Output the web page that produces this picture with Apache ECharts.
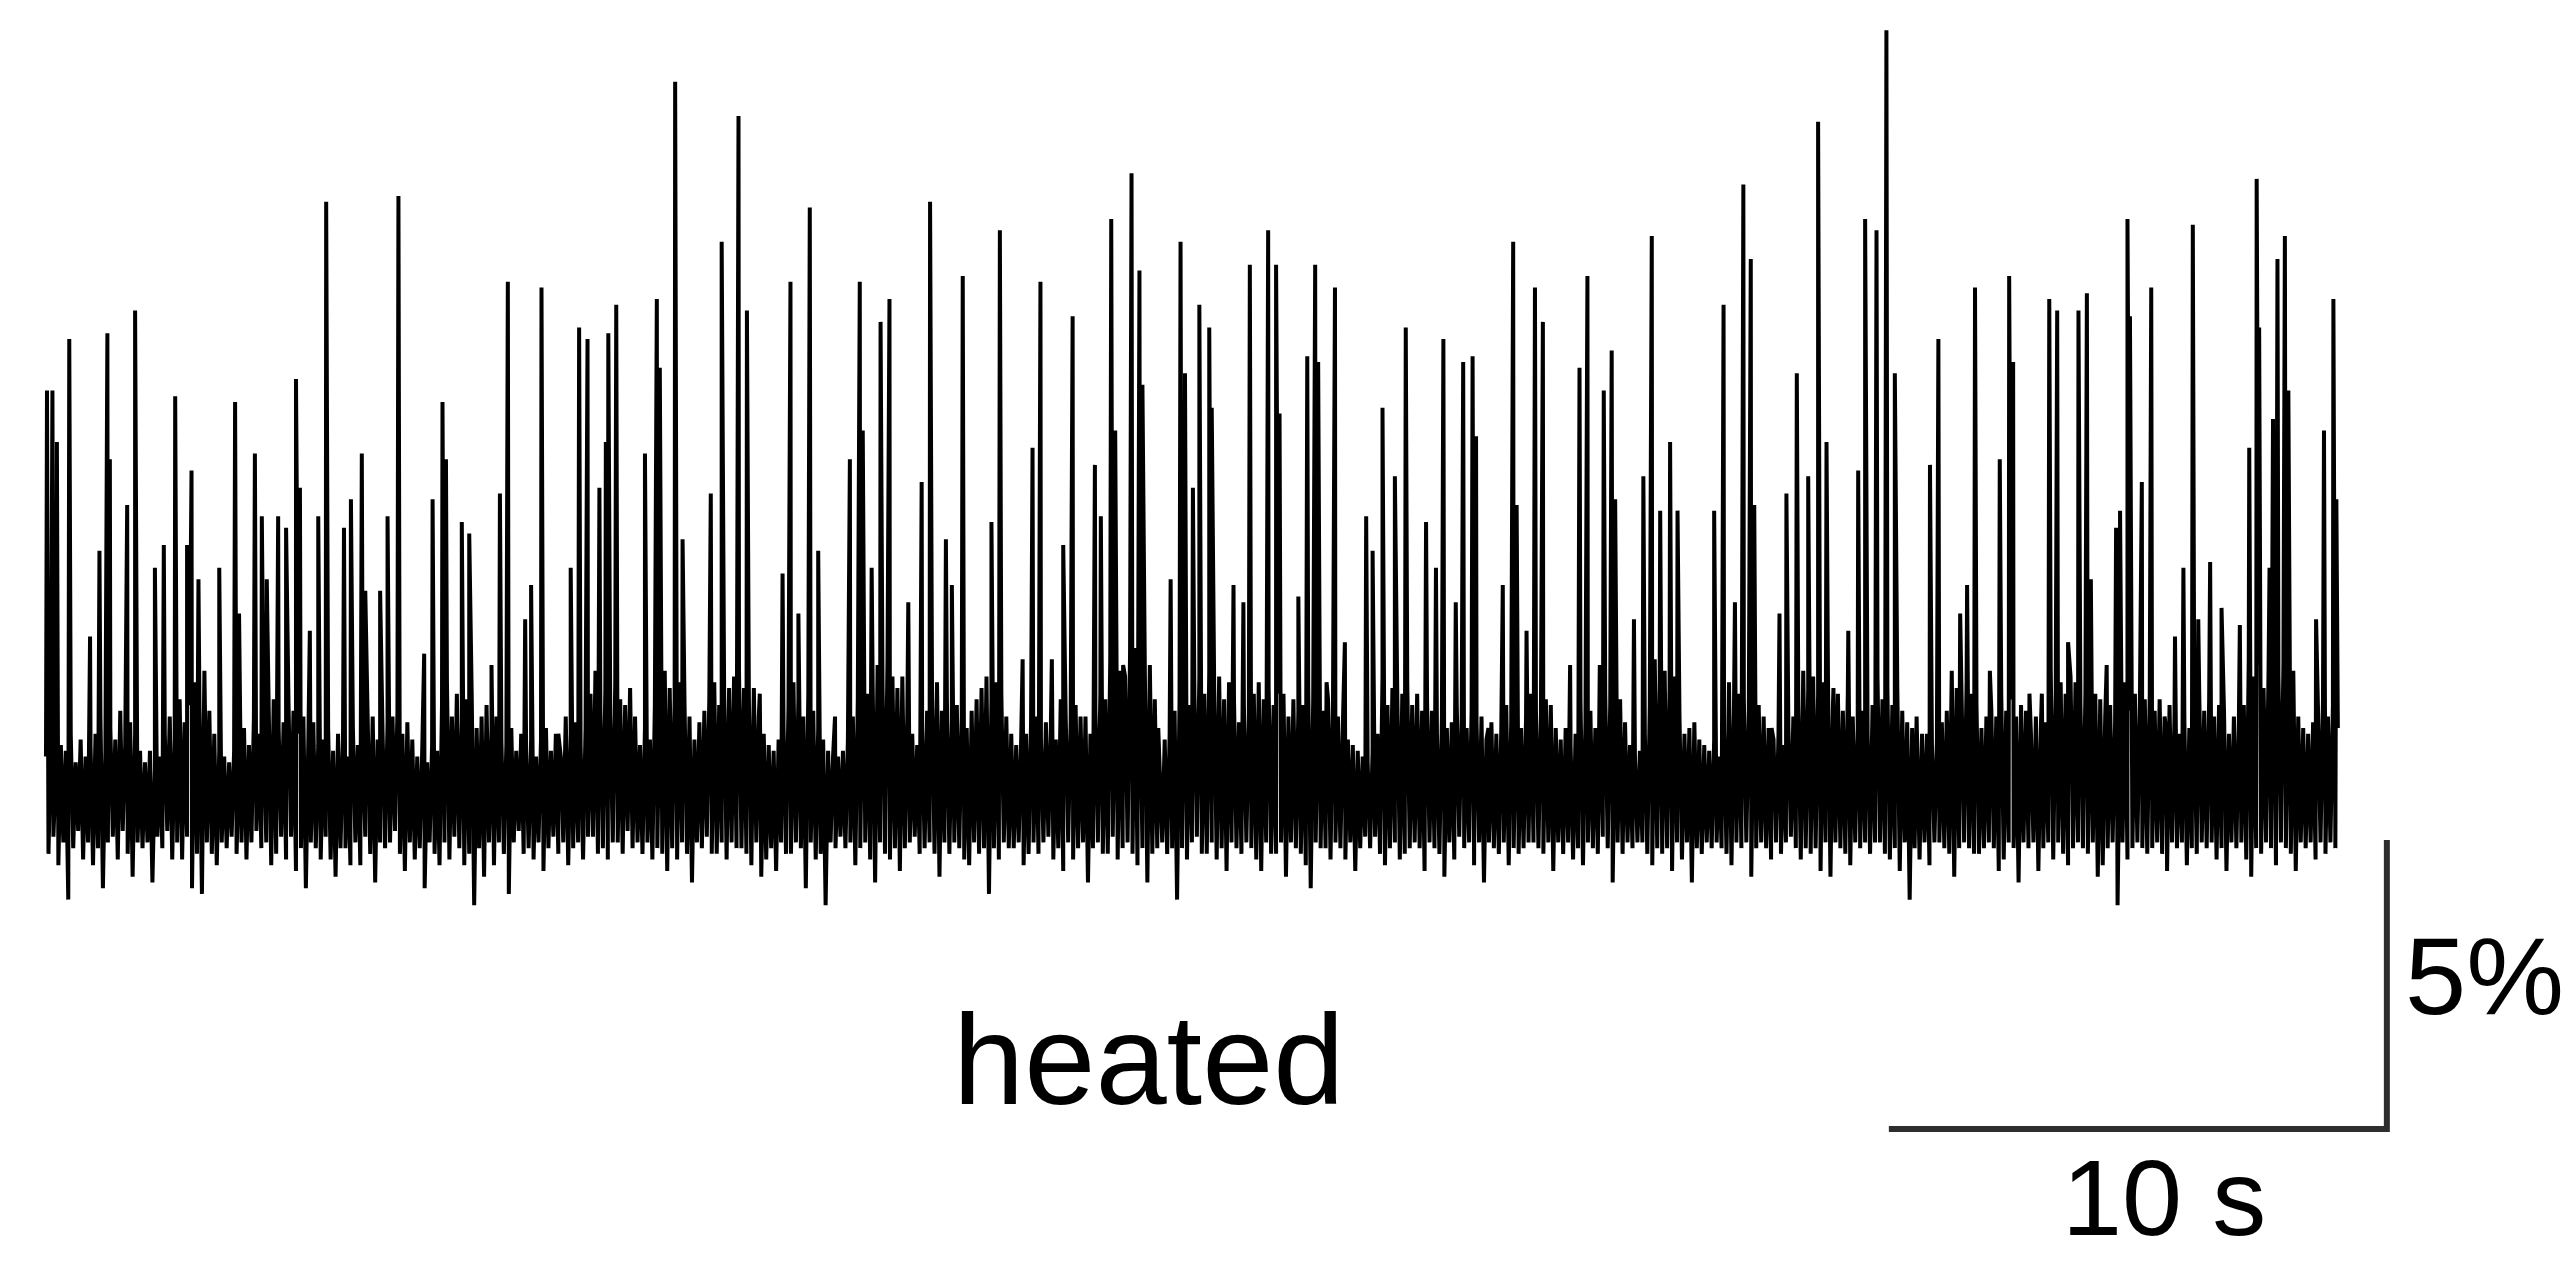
<!DOCTYPE html>
<html>
<head>
<meta charset="utf-8">
<script src="https://cdn.jsdelivr.net/npm/echarts@6/dist/echarts.min.js"></script>
<style>
html,body{margin:0;padding:0;background:#fff;}
#chart{width:2576px;height:1263px;}
</style>
</head>
<body>
<div id="chart"></div>
<script>
// ---- data (ΔF/F in %, time in s) ----
const sampleStep = 0.05; // seconds between baseline samples (one row = 1 s)
const baseline = [
0.5,-1.2,0.8,-0.9,0.3,-1.4,0.7,-1.0,0.6,-2.0,0.9,-1.1,0.4,-0.8,0.8,-1.3,0.5,-1.0,0.7,-1.4,
0.9,-1.1,1.2,-1.8,0.6,-1.0,1.0,-0.9,0.8,-1.3,1.3,-0.8,0.7,-1.2,1.1,-1.6,0.9,-1.0,0.6,-1.1,
0.4,-1.0,0.6,-1.7,0.3,-0.9,0.5,-1.1,0.9,-0.8,1.2,-1.3,0.8,-1.0,1.5,-1.3,1.1,-0.9,1.4,-1.8,
1.8,-1.2,1.4,-1.9,2.0,-1.0,1.3,-1.2,0.9,-1.4,0.6,-1.0,0.5,-1.1,0.4,-0.9,0.6,-1.2,0.5,-1.0,
1.0,-1.3,0.7,-1.0,1.2,-0.8,0.9,-1.1,0.8,-1.0,1.3,-1.4,1.5,-1.2,1.0,-0.9,1.1,-1.3,1.4,-0.9,
1.3,-1.5,0.9,-1.1,1.2,-1.8,0.8,-1.0,1.1,-1.1,0.7,-1.3,0.8,-0.9,1.0,-1.3,0.6,-1.6,0.9,-1.1,
0.8,-1.1,0.5,-1.4,1.0,-1.0,0.7,-1.4,0.6,-0.9,1.1,-1.2,1.2,-1.7,0.8,-1.0,0.9,-1.1,1.1,-1.0,
1.2,-0.8,1.3,-1.2,0.9,-1.5,1.1,-1.0,0.8,-1.3,0.5,-1.1,0.6,-1.8,0.4,-1.0,0.7,-1.2,0.6,-1.4,
1.4,-1.0,1.8,-1.3,1.2,-0.9,1.6,-1.1,1.1,-1.4,1.5,-1.2,1.6,-2.1,1.0,-1.1,1.2,-1.6,1.4,-1.0,
1.0,-1.4,1.2,-1.0,0.8,-1.2,0.7,-1.9,1.0,-1.0,0.6,-0.8,0.9,-1.2,0.6,-1.1,0.8,-1.3,0.5,-1.0,
0.8,-1.5,1.0,-1.1,0.6,-0.9,0.9,-1.2,0.5,-1.0,1.2,-1.4,0.9,-1.1,1.1,-1.0,0.7,-1.3,1.0,-0.9,
1.6,-0.9,2.0,-1.2,1.3,-1.1,1.7,-1.3,1.2,-1.0,1.8,-1.0,1.5,-1.2,1.4,-0.8,1.7,-1.1,1.2,-1.0,
0.7,-1.2,1.0,-1.0,0.8,-1.3,1.4,-1.1,1.6,-1.2,2.0,-1.5,1.7,-1.1,1.5,-1.3,1.8,-1.0,1.4,-1.2,
1.2,-1.7,0.8,-1.0,1.1,-1.1,1.3,-0.9,1.5,-1.2,1.8,-1.2,1.4,-1.0,1.6,-1.3,1.7,-1.0,1.9,-1.1,
2.0,-1.1,1.7,-1.2,1.5,-1.4,1.7,-1.0,1.2,-1.6,0.9,-1.3,0.7,-1.1,0.6,-1.5,0.8,-1.0,1.0,-1.2,
1.4,-1.2,1.8,-1.0,1.5,-1.1,1.2,-1.8,1.6,-1.0,1.3,-1.3,1.0,-1.2,0.8,-2.1,0.6,-1.0,0.5,-1.1,
0.5,-0.9,0.6,-1.1,0.8,-1.0,1.2,-1.4,1.5,-1.1,2.0,-1.0,1.6,-1.3,1.8,-1.7,2.1,-1.0,1.7,-1.2,
2.2,-1.3,1.9,-1.1,1.7,-1.5,1.9,-1.1,1.2,-1.0,0.9,-0.9,0.7,-1.2,1.0,-1.1,1.3,-1.0,1.6,-1.2,
1.8,-1.6,1.3,-1.0,1.5,-1.2,1.1,-1.0,1.4,-1.1,1.2,-1.3,1.0,-1.4,1.3,-1.0,1.5,-1.2,1.7,-1.1,
1.9,-1.9,1.5,-1.1,1.8,-1.3,1.6,-1.0,1.2,-1.1,0.9,-1.1,0.7,-1.0,0.8,-1.4,0.9,-1.2,1.1,-1.0,
1.2,-1.2,0.8,-1.0,1.1,-0.9,1.0,-1.3,0.8,-1.1,1.5,-1.5,1.2,-1.0,1.1,-1.3,1.4,-1.1,1.2,-1.0,
1.2,-1.7,0.9,-1.1,1.3,-1.0,1.6,-1.2,1.5,-1.2,2.2,-0.9,1.8,-1.3,2.0,-1.1,1.9,-1.0,2.3,-1.2,
2.4,-1.4,2.0,-1.1,1.9,-1.7,2.1,-1.2,1.5,-1.1,1.0,-1.0,0.8,-1.2,0.9,-1.1,1.3,-2.0,1.5,-1.1,
1.8,-1.3,1.4,-1.0,1.6,-0.9,1.9,-1.2,1.6,-1.2,2.0,-1.0,1.7,-1.3,1.9,-1.1,1.5,-1.5,1.8,-1.0,
1.5,-1.1,1.1,-1.2,1.4,-1.0,1.2,-1.1,1.6,-1.3,1.8,-1.5,1.5,-1.0,1.7,-1.2,1.4,-1.2,1.6,-1.0,
1.6,-1.6,1.2,-1.0,1.5,-1.1,1.3,-1.2,1.4,-1.4,1.7,-1.8,1.5,-1.0,1.6,-1.1,1.3,-1.1,1.5,-1.3,
1.5,-1.0,1.2,-1.1,1.1,-1.3,0.8,-1.0,0.7,-1.5,0.6,-1.1,0.5,-0.9,0.4,-1.1,0.6,-0.9,0.9,-1.2,
1.9,-1.4,1.4,-1.1,1.7,-1.0,1.5,-1.3,1.6,-1.2,1.8,-1.1,1.4,-1.0,1.6,-1.1,1.3,-1.5,1.5,-1.0,
1.3,-1.1,0.9,-1.2,1.2,-1.6,1.0,-1.0,1.1,-1.3,1.4,-0.9,1.2,-1.1,1.0,-1.0,1.3,-1.4,1.1,-1.0,
1.2,-1.7,0.8,-1.0,1.1,-1.1,0.9,-1.2,1.0,-1.0,1.4,-1.4,1.1,-1.1,1.3,-1.2,1.0,-1.1,1.2,-1.0,
1.6,-1.0,1.3,-1.1,1.2,-1.2,1.5,-1.0,1.4,-1.5,1.0,-1.0,0.8,-1.2,1.0,-1.0,0.7,-1.3,0.9,-1.1,
1.5,-1.4,1.1,-1.0,1.3,-1.1,1.0,-1.2,1.3,-0.9,1.6,-1.1,1.4,-1.7,1.2,-1.0,1.5,-1.2,1.1,-1.0,
0.7,-1.1,0.5,-1.0,0.6,-1.0,0.9,-1.2,1.4,-1.4,2.2,-1.1,1.8,-1.2,2.0,-1.1,1.7,-1.5,1.9,-1.0,
1.2,-1.3,0.9,-1.0,1.0,-1.7,1.1,-1.1,0.8,-1.2,0.7,-1.0,0.6,-1.1,0.8,-1.0,0.5,-1.1,0.9,-1.2,
1.8,-1.4,1.3,-1.0,1.6,-1.1,1.5,-1.0,1.3,-1.6,1.7,-1.1,1.4,-1.0,1.2,-1.1,1.0,-1.3,0.8,-1.0,
0.9,-1.2,0.7,-1.0,1.0,-0.9,1.2,-1.1,1.4,-1.3,2.0,-1.1,1.7,-1.2,1.9,-1.1,1.6,-1.5,1.8,-1.0,
1.8,-1.6,1.4,-1.0,1.6,-1.1,1.3,-1.2,1.6,-1.4,1.2,-1.0,1.0,-1.1,1.3,-1.0,0.9,-1.2,1.4,-1.0,
1.9,-1.0,1.5,-1.2,1.7,-1.3,1.4,-1.1,1.7,-1.5,1.3,-1.0,1.1,-2.0,1.0,-1.1,0.8,-1.3,0.9,-1.0,
0.9,-1.4,0.7,-1.0,0.8,-1.0,1.1,-1.1,1.3,-1.2,2.0,-1.6,1.7,-1.1,1.5,-1.0,1.8,-1.1,1.6,-1.2,
1.4,-1.2,1.0,-1.1,1.2,-1.0,1.3,-1.1,1.2,-1.5,1.6,-1.3,1.3,-1.0,1.5,-1.1,1.2,-1.7,1.4,-1.0,
1.3,-1.1,0.9,-1.0,1.2,-1.5,1.0,-1.1,1.1,-1.0,2.0,-1.3,1.6,-1.0,1.8,-1.2,1.6,-1.4,1.9,-1.1,
1.8,-1.0,1.4,-1.1,1.6,-1.2,1.3,-1.0,1.6,-1.6,1.5,-1.4,1.2,-1.1,1.4,-1.0,1.1,-2.1,1.3,-1.0,
1.8,-1.3,1.3,-1.1,1.6,-1.0,1.4,-1.1,1.5,-1.2,1.6,-1.1,1.3,-1.0,1.5,-1.2,1.2,-1.5,1.4,-1.0,
1.2,-1.1,0.9,-1.0,1.1,-1.4,1.0,-1.1,1.0,-1.2,1.6,-1.0,1.3,-1.1,1.5,-1.0,1.2,-1.3,1.4,-1.1,
1.3,-1.5,0.9,-1.0,1.2,-1.1,1.1,-1.0,1.4,-1.3,2.2,-1.6,1.9,-1.1,2.1,-1.2,1.7,-1.0,2.0,-1.1,
2.3,-1.4,1.9,-1.0,2.1,-1.1,1.8,-1.2,2.0,-1.5,1.2,-1.0,1.0,-1.1,0.9,-1.0,1.1,-1.3,1.3,-1.0,
1.5,-1.2,1.2,-1.0,1.4,-1.1,1.0
];

const spikeTimes = [
0.02,0.13,0.22,0.47,0.89,1.08,1.24,1.29,1.64,1.80,2.20,2.38,2.61,2.85,2.94,3.08,3.50,3.82,3.90,4.22,4.36,4.46,4.69,4.85,5.05,5.13,5.33,5.50,5.66,
6.02,6.16,6.38,6.45,6.75,6.90,7.12,7.64,7.81,8.01,8.08,8.40,8.55,9.00,9.17,9.33,9.68,9.80,10.01,10.35,10.60,10.77,10.94,11.18,11.31,11.36,11.52,
12.10,12.34,12.40,12.71,12.86,13.43,13.65,13.99,14.16,14.42,14.88,15.04,15.20,15.43,15.60,15.94,16.24,16.44,16.50,16.68,16.86,17.04,17.42,
17.69,17.86,18.18,18.30,18.52,19.10,19.27,19.73,19.93,20.09,20.32,20.55,20.74,21.19,21.31,21.52,21.60,21.76,21.93,22.09,22.15,22.47,22.72,22.92,23.01,23.17,23.30,
23.50,23.55,23.99,24.19,24.32,24.69,24.85,24.92,25.30,25.48,25.64,25.70,25.87,26.04,26.24,26.67,26.80,27.00,27.25,27.47,27.88,28.08,28.23,28.48,28.63,28.82,28.89,29.14,
29.43,29.64,29.71,29.91,30.08,30.24,30.79,30.98,31.14,31.39,31.47,31.63,31.70,32.08,32.27,32.44,32.61,32.81,32.96,33.70,33.89,34.12,34.29,34.44,34.51,34.86,35.02,
35.16,35.37,35.60,35.80,35.97,36.11,36.41,36.61,36.75,36.98,37.18,37.35,37.79,38.06,38.23,38.67,38.81,38.97,39.27,39.47,39.66,39.74,40.07,40.32,40.47,40.63,40.85,
41.06,41.23,41.31,41.63,41.82,41.90,42.05,42.10,42.34,42.53,42.84,43.01,43.18,43.37,43.48,43.72,43.95,44.32,44.51,44.66,44.71,44.92,44.99,45.08,45.23,45.30,45.86,46.02,46.21,46.27
];
const spikePeaks = [
6.9,6.9,6.0,7.8,2.6,4.1,7.9,5.7,4.9,8.3,3.8,4.2,6.8,4.2,5.5,3.6,3.8,6.7,3.0,5.8,4.7,3.6,4.7,4.5,7.1,5.2,2.7,4.7,10.2,
4.5,5.0,5.8,3.4,3.4,4.7,10.3,2.3,5.0,6.7,5.7,4.6,4.4,2.1,5.1,8.8,2.9,3.5,8.7,0.9,3.8,8.0,7.8,5.2,6.0,7.9,8.4,
5.8,8.5,7.3,12.3,4.3,5.1,9.5,11.7,8.3,1.6,3.7,8.8,3.0,10.1,4.1,1.2,5.7,8.8,6.2,3.8,8.1,8.5,3.2,
5.3,10.2,4.3,3.5,8.9,4.6,9.7,2.2,5.9,8.8,2.2,4.2,8.2,5.6,4.7,9.9,6.2,2.1,10.7,9.0,7.0,1.0,3.6,9.5,7.2,5.2,8.4,
8.0,6.6,3.5,3.2,9.1,9.7,9.1,6.5,3.3,7.5,9.1,7.4,1.8,8.7,2.5,4.7,4.1,6.6,5.4,8.0,4.6,3.8,7.8,3.2,7.4,7.5,6.1,1.0,
3.5,9.5,4.9,2.7,8.7,8.1,2.1,7.3,8.9,2.1,6.9,7.6,5.0,2.9,5.4,9.6,4.8,6.0,4.8,4.8,8.4,3.2,10.5,9.2,4.9,1.0,3.0,
5.1,7.2,5.4,11.6,6.0,1.7,2.7,5.5,9.9,9.7,13.2,7.2,1.2,5.6,7.8,3.0,3.5,8.7,2.0,5.7,8.9,7.4,1.6,1.6,8.5,8.3,2.5,
8.3,8.6,3.6,2.1,4.5,4.8,9.9,8.2,5.3,8.7,0.9,2.6,3.8,9.8,2.9,3.9,3.1,2.8,5.9,10.6,8.0,3.8,6.4,9.2,9.6,6.9,2.9,6.2,8.5,5.0
];

// scale bar: 10 s horizontal, 5 % vertical
const scaleBarTime = [37.29, 47.29];
const scaleBarValue = [-6.01, -1.01];
const labels = { condition: 'heated', timeBar: '10 s', valueBar: '5%' };

// ---- build the trace ----
const trace = baseline.map((v, i) => [Math.round(i * sampleStep * 100) / 100, v]);
spikeTimes.forEach((t, i) => trace.push([t, spikePeaks[i]]));
trace.sort((a, b) => a[0] - b[0]);

const scaleBar = [
  [scaleBarTime[0], scaleBarValue[0]],
  [scaleBarTime[1], scaleBarValue[0]],
  [scaleBarTime[1], scaleBarValue[1]]
];

const chart = echarts.init(document.getElementById('chart'), null, { renderer: 'canvas' });
chart.setOption({
  animation: false,
  backgroundColor: '#ffffff',
  grid: { left: 46, top: 13, width: 2351.25, height: 1172.6 },
  xAxis: { type: 'value', min: 0, max: 47.5, show: false },
  yAxis: { type: 'value', min: -7, max: 13.5, show: false },
  series: [
    {
      type: 'line',
      data: trace,
      showSymbol: false,
      symbol: 'none',
      z: 2,
      lineStyle: { color: '#000000', width: 4, join: 'miter' },
      clip: false
    },
    {
      type: 'line',
      data: scaleBar,
      showSymbol: false,
      symbol: 'none',
      z: 2,
      lineStyle: { color: '#2e2e2e', width: 6, join: 'miter', cap: 'square' },
      clip: false
    }
  ],
  graphic: [
    { type: 'text', left: 953, top: 1069 - 64, style: { text: labels.condition, font: '128px "Liberation Sans", Arial, sans-serif', fill: '#000' } },
    { type: 'text', left: 2062, top: 1205 - 54, style: { text: labels.timeBar, font: '108px "Liberation Sans", Arial, sans-serif', fill: '#000' } },
    { type: 'text', left: 2405, top: 984 - 55, style: { text: labels.valueBar, font: '110px "Liberation Sans", Arial, sans-serif', fill: '#000' } }
  ]
});
</script>
</body>
</html>
